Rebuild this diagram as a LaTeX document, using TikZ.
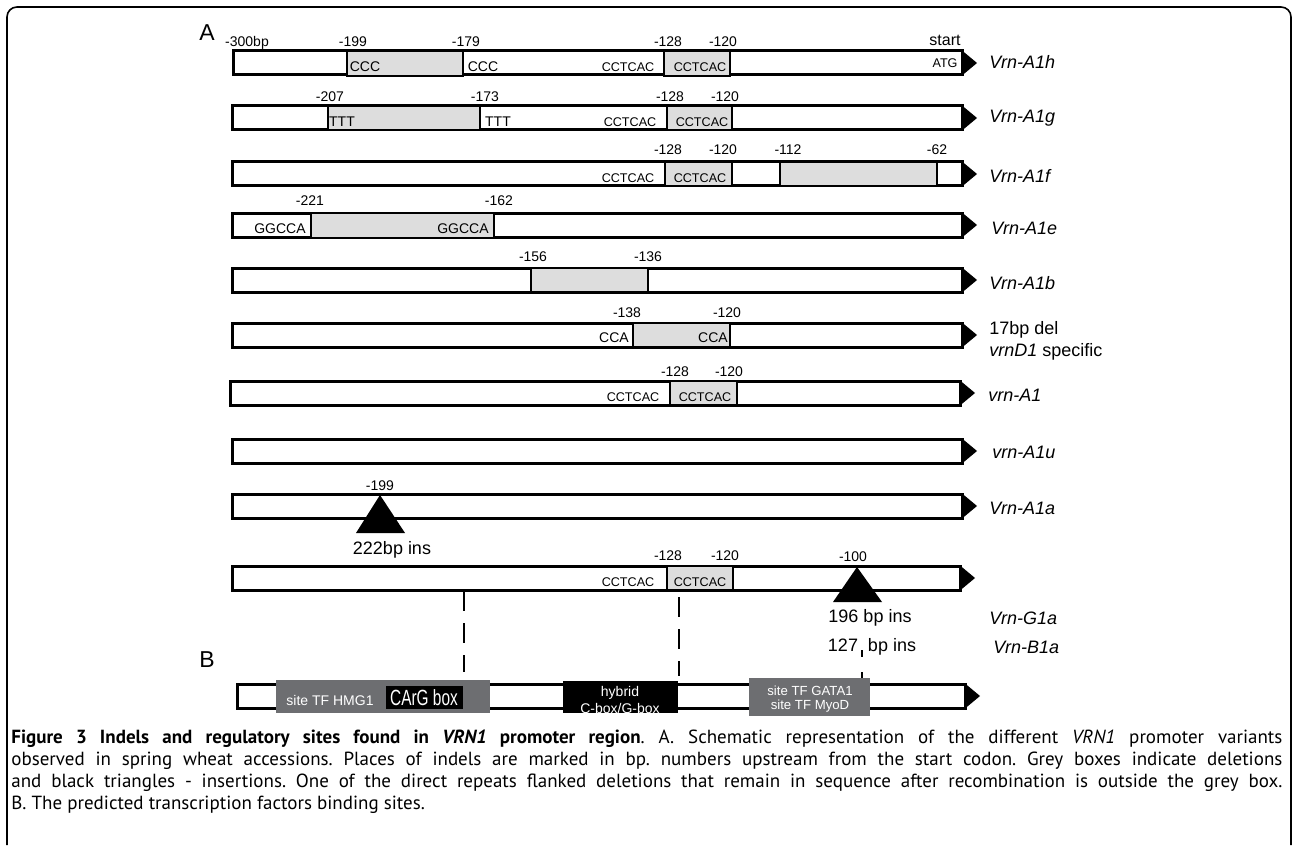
\documentclass[tikz,border=0pt]{standalone}
\usepackage{fontspec}
\setmainfont{Liberation Sans}
\newfontfamily\capfont{PT Sans}
\usepackage{graphicx}
\usetikzlibrary{positioning}
\definecolor{delgrey}{RGB}{221,221,221}
\definecolor{sitegrey}{RGB}{109,110,113}
% one promoter bar: top, left end, right end
\newcommand{\genebar}[3]{%
  \draw[bar] (#2,#1) rectangle (#3,#1+24);
  \fill (#3,#1-0.5) -- (#3+15,#1+12) -- (#3,#1+24.5) -- cycle;}
\begin{document}
\begin{tikzpicture}[x=0.5pt,y=-0.5pt,
    bar/.style={draw,line width=1.5pt,fill=white},
    del/.style={draw,line width=1.3pt,fill=delgrey},
    bpnum/.style={inner sep=0pt,font=\fontsize{7}{8}\selectfont},
    rep/.style={inner sep=0pt,font=\fontsize{6.3}{7}\selectfont},
    var/.style={anchor=west,inner sep=0pt,font=\fontsize{9}{10}\selectfont\itshape},
    inslabel/.style={inner sep=0pt,font=\fontsize{9}{10}\selectfont},
    site/.style={inner sep=0pt,text=white,align=center,font=\fontsize{7}{8.5}\selectfont},
    guide/.style={dash pattern=on 10pt off 6pt,line width=0.6pt},
    panel/.style={inner sep=0pt,font=\fontsize{11.5}{12}\selectfont}]
    \useasboundingbox (0,0) rectangle (1293,845);
    % frame
    \draw[line width=0.8pt,rounded corners=5pt] (7,845) -- (7,7) -- (1291,7) -- (1291,845);

    \node[panel] (panelA) at (207,33) {A};
    % Vrn-A1h
    \genebar{51}{233}{962}
    \draw[del] (347,51) rectangle (463,76);
    \draw[del] (664,51) rectangle (730,76);
    \node[bpnum] (h300) at (247,43) {-300bp};
    \node[bpnum] (h199) at (353,42) {-199};
    \node[bpnum] (h179) at (466,42) {-179};
    \node[bpnum] (h128) at (668,42) {-128};
    \node[bpnum] (h120) at (723,42) {-120};
    \node[inner sep=0pt,font=\fontsize{8}{9}\selectfont] (hstart) at (945,40) {start};
    \node[bpnum] (hccc1) at (365,67) {CCC};
    \node[bpnum] (hccc2) at (483,67) {CCC};
    \node[rep] (hrep1) at (628,67) {CCTCAC};
    \node[rep] (hrep2) at (700,67) {CCTCAC};
    \node[rep] (hatg) at (945,63) {ATG};
    \node[var] (a1h) at (989,62) {Vrn-A1h};
    % Vrn-A1g
    \genebar{106}{232}{962}
    \draw[del] (328,106) rectangle (480,130);
    \draw[del] (667,106) rectangle (732,130);
    \node[bpnum] (g207) at (330,97) {-207};
    \node[bpnum] (g173) at (485,97) {-173};
    \node[bpnum] (g128) at (670,97) {-128};
    \node[bpnum] (g120) at (725,97) {-120};
    \node[bpnum] (gttt1) at (342,122) {TTT};
    \node[bpnum] (gttt2) at (498,122) {TTT};
    \node[rep] (grep1) at (630,122) {CCTCAC};
    \node[rep] (grep2) at (702,122) {CCTCAC};
    \node[var] (a1g) at (989,118) {Vrn-A1g};
    % Vrn-A1f
    \genebar{162}{232}{962}
    \draw[del] (665,162) rectangle (732,186);
    \draw[del] (780,162) rectangle (937,186);
    \node[bpnum] (f128) at (668,150) {-128};
    \node[bpnum] (f120) at (723,150) {-120};
    \node[bpnum] (f112) at (788,150) {-112};
    \node[bpnum] (f62) at (937,150) {-62};
    \node[rep] (frep1) at (628,178) {CCTCAC};
    \node[rep] (frep2) at (700,178) {CCTCAC};
    \node[var] (a1f) at (989,176) {Vrn-A1f};
    % Vrn-A1e
    \genebar{213}{232}{962}
    \draw[del] (311,213) rectangle (494,238);
    \node[bpnum] (e221) at (310,201) {-221};
    \node[bpnum] (e162) at (499,201) {-162};
    \node[bpnum] (egg1) at (280,229) {GGCCA};
    \node[bpnum] (egg2) at (463,229) {GGCCA};
    \node[var] (a1e) at (991,228) {Vrn-A1e};
    % Vrn-A1b
    \genebar{268}{232}{962}
    \draw[del] (531,268) rectangle (648,292);
    \node[bpnum] (b156) at (533,257) {-156};
    \node[bpnum] (b136) at (648,257) {-136};
    \node[var] (a1b) at (989,283) {Vrn-A1b};
    % 17bp deletion
    \genebar{323}{232}{962}
    \draw[del] (633,323) rectangle (730,347);
    \node[bpnum] (d138) at (627,313) {-138};
    \node[bpnum] (d120) at (727,313) {-120};
    \node[bpnum] (dcca1) at (614,338) {CCA};
    \node[bpnum] (dcca2) at (713,338) {CCA};
    \node[var,font=\fontsize{9}{10}\selectfont] (del17) at (989,330) {17bp del};
    \node[var,font=\fontsize{9}{10}\selectfont] (vrnd1) at (989,352) {\textit{vrnD1} specific};
    % vrn-A1
    \genebar{381}{230}{960}
    \draw[del] (670,381) rectangle (737,405);
    \node[bpnum] (r128) at (675,372) {-128};
    \node[bpnum] (r120) at (729,372) {-120};
    \node[rep] (rrep1) at (633,397) {CCTCAC};
    \node[rep] (rrep2) at (705,397) {CCTCAC};
    \node[var] (vrna1) at (988,395) {vrn-A1};
    % vrn-A1u
    \genebar{439}{232}{962}
    \node[var] (vrna1u) at (992,452) {vrn-A1u};
    % Vrn-A1a
    \genebar{494}{232}{962}
    \fill (380,495) -- (405,533) -- (356,533) -- cycle;
    \node[bpnum] (a199) at (380,486) {-199};
    \node[inslabel] (a222) at (392,550) {222bp ins};
    \node[var] (a1a) at (989,508) {Vrn-A1a};
    % Vrn-G1a / Vrn-B1a
    \genebar{566}{232}{960}
    \draw[del] (667,566) rectangle (733,590);
    \fill (857,567) -- (882,602) -- (833,602) -- cycle;
    \node[bpnum] (s128) at (668,556) {-128};
    \node[bpnum] (s120) at (725,556) {-120};
    \node[bpnum] (s100) at (853,557) {-100};
    \node[rep] (srep1) at (628,582) {CCTCAC};
    \node[rep] (srep2) at (700,582) {CCTCAC};
    \node[inslabel] (s196) at (870,618) {196 bp ins};
    \node[inslabel] (s127) at (872,647) {127\hspace{5pt}bp ins};
    \node[var] (g1a) at (989,618) {Vrn-G1a};
    \node[var] (b1a) at (993,647) {Vrn-B1a};

    % B: binding sites
    \node[panel] (panelB) at (207,660) {B};
    \genebar{684}{237}{965}
    \fill[sitegrey] (276,680) rectangle (490,713);
    \fill[black] (386,686) rectangle (463,709);
    \fill[black] (563,681) rectangle (678,713);
    \fill[sitegrey] (749,678) rectangle (870,716);
    \node[site] (hmg1) at (330,700) {site TF HMG1};
    \node[site,font=\fontsize{11}{12}\selectfont] (carg) at (424,698) {\scalebox{0.7}[1]{CArG box}};
    \node[site] (hybrid) at (620,700) {hybrid\\C-box/G-box};
    \node[site,font=\fontsize{6.6}{7.2}\selectfont] (gata) at (810,699) {site TF GATA1\\site TF MyoD};
    % guides from part A to part B
    \coordinate (cargUp) at (464,591);
    \coordinate (cargDown) at (464,672);
    \coordinate (hybUp) at (679,597);
    \coordinate (hybDown) at (679,676);
    \coordinate (gataUp) at (862,650);
    \coordinate (gataDown) at (862,678);
    \draw[guide] (cargUp) -- (cargDown);
    \draw[guide] (hybUp) -- (hybDown);
    \draw[dash pattern=on 3.5pt off 7.5pt,line width=0.6pt] (gataUp) -- (gataDown);

    % caption
    \node[anchor=north west,text width=635.5pt,align=justify,inner sep=0pt,
      font=\capfont\frenchspacing\fontsize{9.5}{11}\selectfont] (caption) at (11,730)
      {\textbf{Figure 3 Indels and regulatory sites found in \textit{VRN1} promoter region}. A. Schematic representation of the different \textit{VRN1} promoter variants\linebreak
       observed in spring wheat accessions. Places of indels are marked in bp. numbers upstream from the start codon. Grey boxes indicate deletions\linebreak
       and black triangles - insertions. One of the direct repeats flanked deletions that remain in sequence after recombination is outside the grey box.\linebreak
       B. The predicted transcription factors binding sites.};
\end{tikzpicture}
\end{document}
